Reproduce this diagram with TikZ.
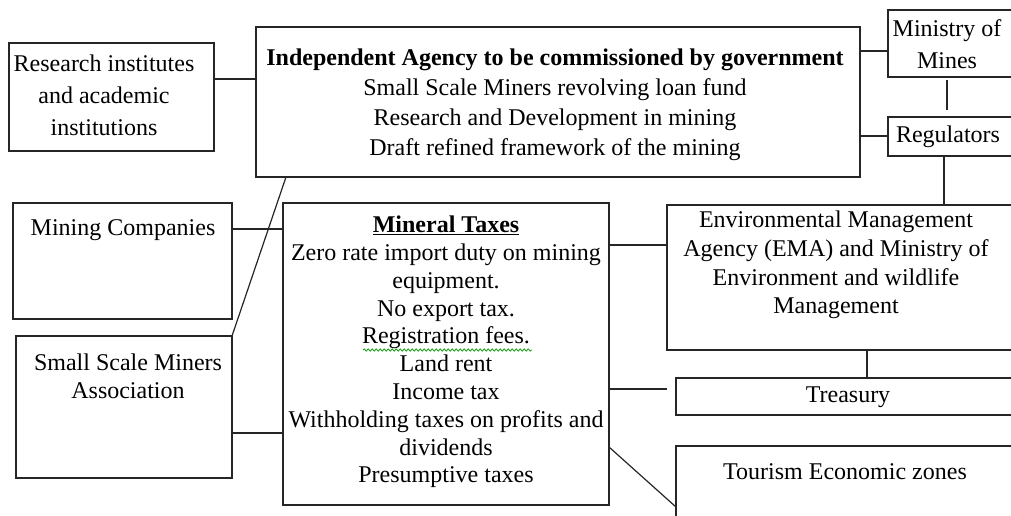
\documentclass[tikz,border=0pt]{standalone}
\usepackage{fontspec}
\setmainfont{Liberation Serif}
\usetikzlibrary{decorations.pathmorphing}

\begin{document}
\begin{tikzpicture}[x=1pt,y=-1pt,
  box/.style={draw=black!85,line width=1.7pt,anchor=north west,inner sep=0pt,outer sep=0pt},
  txt/.style={align=center,inner sep=0pt,font=\fontsize{24}{27.8}\selectfont},
  link/.style={draw=black!85,line width=1.7pt}]
 \useasboundingbox (0,0) rectangle (1011,516);
 \fill[white] (0,0) rectangle (1011,516);
 \clip (0,0) rectangle (1011,516);
 % boxes (right-hand ones run off the page edge)
 \node[box,minimum width=205,minimum height=108] (research) at (9,43) {};
 \node[box,minimum width=604,minimum height=150] (agency) at (256,27) {};
 \node[box,minimum width=137,minimum height=67] (ministry) at (888,10) {};
 \node[box,minimum width=137,minimum height=39] (regulators) at (888,117) {};
 \node[box,minimum width=219,minimum height=116] (mining) at (13,203) {};
 \node[box,minimum width=216,minimum height=142] (ssma) at (16,336) {};
 \node[box,minimum width=326,minimum height=302] (taxes) at (283,203) {};
 \node[box,minimum width=358,minimum height=145] (ema) at (667,205) {};
 \node[box,minimum width=349,minimum height=37] (treasury) at (676,378) {};
 \node[box,minimum width=349,minimum height=100] (tourism) at (676,446) {};
 % texts
 \node[txt,font=\fontsize{24}{32}\selectfont] (research-t) at (104,95)
   {Research institutes\\and academic\\institutions};
 \node[txt,font=\fontsize{24}{30}\selectfont] (agency-t) at (555,105)
   {\textbf{Independent Agency to be commissioned by government}\\
    Small Scale Miners revolving loan fund\\
    Research and Development in mining\\
    Draft refined framework of the mining};
 \node[txt,font=\fontsize{24}{32}\selectfont] (ministry-t) at (947,44) {Ministry of\\Mines};
 \node[txt] (regulators-t) at (948,137) {Regulators};
 \node[txt] (mining-t) at (123,230) {Mining Companies};
 \node[txt] (ssma-t) at (128,376) {Small Scale Miners\\Association};
 \node[txt] (taxes-t) at (446,352)
   {\underline{\textbf{Mineral Taxes}}\\
    Zero rate import duty on mining\\
    equipment.\\
    No export tax.\\
    Registration fees.\\
    Land rent\\
    Income tax\\
    Withholding taxes on profits and\\
    dividends\\
    Presumptive taxes};
 \node[txt,font=\fontsize{24}{28.7}\selectfont] (ema-t) at (836,265)
   {Environmental Management\\Agency (EMA) and Ministry of\\Environment and wildlife\\Management};
 \node[txt] (treasury-t) at (848,397) {Treasury};
 \node[txt] (tourism-t) at (845,472) {Tourism Economic zones};
 % spell-check squiggle
 \draw[green!60!black,line width=0.7pt,decorate,
   decoration={snake,amplitude=1.2pt,segment length=4pt}] (363,350) -- (532,350);
 % connectors
 \draw[link] (research.east |- 0,79) -- (agency.west |- 0,79);
 \draw[link] (agency.east |- 0,51) -- (ministry.west |- 0,51);
 \draw[link] (agency.east |- 0,136) -- (regulators.west |- 0,136);
 \draw[link,shorten <=3pt,shorten >=7pt] (ministry.south -| 947,0) -- (regulators.north -| 947,0);
 \draw[link] (regulators.south -| 944,0) -- (ema.north -| 944,0);
 \draw[link,line width=1.2pt] (agency.south -| 286,0) -- (ssma.north east);
 \draw[link] (mining.east |- 0,229) -- (taxes.west |- 0,229);
 \draw[link] (ssma.east |- 0,433) -- (taxes.west |- 0,433);
 \draw[link] (taxes.east |- 0,245) -- (ema.west |- 0,245);
 \draw[link,shorten >=9pt] (taxes.east |- 0,389) -- (treasury.west |- 0,389);
 \draw[link] (ema.south -| 867,0) -- (treasury.north -| 867,0);
 \draw[link,line width=1.2pt] (taxes.east |- 0,447) -- (tourism.west |- 0,507);
\end{tikzpicture}
\end{document}
